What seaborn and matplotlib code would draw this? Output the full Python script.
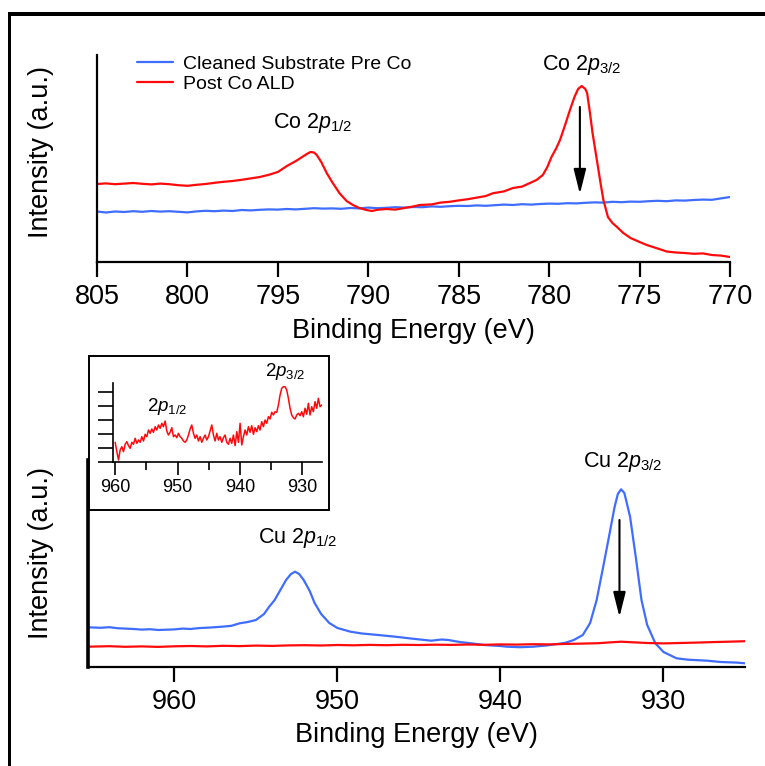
import numpy as np
import pandas as pd
import matplotlib
matplotlib.use("Agg")
import matplotlib.pyplot as plt
import seaborn as sns
from matplotlib.patches import Rectangle

# ---------------- data ----------------
# Co 2p region, cleaned substrate (before Co deposition)
co_pre_energy = [805, 804.5, 804, 803.5, 803, 802.5, 802, 801.5, 801, 800.5, 800, 799.5,
                 799, 798.5, 798, 797.5, 797, 796.5, 796, 795.5, 795, 794.5, 794, 793.5,
                 793, 792.5, 792, 791.5, 791, 790.5, 790, 789.5, 789, 788.5, 788, 787.5,
                 787, 786.5, 786, 785.5, 785, 784.5, 784, 783.5, 783, 782.5, 782, 781.5,
                 781, 780.5, 780, 779.5, 779, 778.5, 778, 777.5, 777, 776.5, 776, 775.5,
                 775, 774.5, 774, 773.5, 773, 772.5, 772, 771.5, 771, 770.5, 770]
co_pre_counts = [50.5, 49.5, 50.5, 50.0, 50.8, 50.2, 51.0, 50.4, 50.8, 50.2, 49.6, 50.6,
                 51.2, 50.8, 51.4, 51.0, 52.0, 51.6, 52.2, 52.6, 52.4, 53.0, 52.6, 53.2,
                 53.8, 53.4, 53.6, 53.2, 54.0, 53.6, 54.4, 53.8, 54.2, 54.8, 54.4, 55.0,
                 54.8, 55.6, 55.2, 55.8, 56.2, 56.0, 56.6, 56.2, 56.8, 57.4, 57.0, 57.8,
                 57.4, 58.0, 58.4, 58.2, 58.8, 58.6, 59.2, 59.6, 59.4, 60.2, 59.8, 60.4,
                 60.2, 60.8, 61.2, 60.8, 61.6, 61.4, 62.0, 62.4, 62.2, 63.6, 65.0]

# Co 2p region after Co ALD
co_post_energy = [805, 804.5, 804, 803.5, 803, 802.5, 802, 801.5, 801, 800.5, 800, 799.5,
                  799, 798.5, 798, 797.5, 797, 796.5, 796, 795.5, 795, 794.5, 794, 793.7,
                  793.4, 793.2, 793.0, 792.85, 792.6, 792.3, 792.0, 791.6, 791.2, 790.85,
                  790.5, 790.1, 789.8, 789.5, 789.0, 788.5, 788.0, 787.5, 787.15, 786.5,
                  786.0, 785.5, 785.0, 784.5, 784.0, 783.5, 783.1, 782.5, 782.0, 781.5,
                  781.06, 780.7, 780.35, 780.1, 779.87, 779.6, 779.4, 779.1, 778.85, 778.6,
                  778.4, 778.2, 778.0, 777.9, 777.75, 777.6, 777.45, 777.3, 777.15, 777.0,
                  776.75, 776.5, 776.25, 775.9, 775.5, 775.0, 774.6, 774.0, 773.5, 773.0,
                  772.5, 772.0, 771.5, 771.0, 770.5, 770.0]
co_post_counts = [78.0, 78.6, 77.8, 78.4, 79.0, 78.2, 77.6, 78.4, 77.8, 76.8, 76.2, 77.2,
                  78.0, 79.2, 80.2, 81.0, 82.2, 83.6, 85.0, 87.2, 90.0, 96.0, 101.0, 104.5,
                  108.0, 110.0, 109.5, 107.0, 100.0, 89.0, 80.0, 69.0, 61.0, 57.0,
                  54.0, 52.0, 51.0, 52.2, 53.0, 52.4, 54.0, 55.6, 57.0, 57.6,
                  59.4, 60.2, 61.6, 62.8, 64.4, 66.0, 68.8, 70.6, 74.0, 75.4,
                  79.0, 82.0, 87.0, 95.0, 105.0, 114.0, 122.0, 138.0, 152.0, 165.0,
                  173.0, 176.0, 173.0, 169.0, 150.0, 129.0, 112.0, 95.0, 78.0, 62.0,
                  45.0, 39.0, 35.0, 29.0, 24.0, 20.0, 17.0, 13.5, 10.5, 9.5,
                  9.0, 8.2, 8.6, 7.0, 6.4, 5.0]

# Cu 2p region, cleaned substrate
cu_pre_energy = [965.3, 964.5, 964, 963.5, 963, 962.5, 962, 961.5, 961, 960.5, 960, 959.5,
                 959, 958.5, 958, 957.5, 957, 956.5, 956, 955.5, 955, 954.5, 954.2, 953.85,
                 953.5, 953.15, 952.85, 952.6, 952.35, 952.07, 951.7, 951.4, 951.0, 950.5,
                 950.0, 949.2, 948.5, 947.5, 946.45, 945.5, 944.25, 943.6, 943.2, 942.5,
                 941.8, 941.0, 940.0, 939.6, 938.8, 938.0, 937.2, 936.5, 936.0, 935.5,
                 934.95, 934.5, 934.1, 933.7, 933.3, 933.0, 932.8, 932.6, 932.4, 932.05,
                 931.7, 931.35, 931.0, 930.5, 930.0, 929.2, 928.5, 927.3, 926.5, 925.5, 925.0]
cu_pre_counts = [39.7, 39.2, 39.8, 38.8, 38.4, 38.0, 37.4, 37.8, 37.0, 37.3, 37.6, 38.4,
                 38.0, 38.9, 39.3, 39.8, 40.4, 41.2, 43.7, 45.0, 47.0, 53.0, 60.0, 67.0,
                 77.0, 87.0, 93.0, 95.3, 93.0, 87.0, 76.0, 64.0, 53.0, 44.0,
                 39.0, 35.3, 33.5, 32.0, 30.3, 28.5, 26.3, 27.5, 27.0, 25.0,
                 23.7, 22.0, 21.0, 20.3, 19.8, 20.3, 21.5, 23.0, 24.3, 27.0,
                 32.0, 44.0, 67.0, 100.0, 134.0, 160.0, 173.0, 177.7, 174.0, 150.3,
                 110.0, 67.0, 42.0, 23.7, 15.0, 8.7, 7.3, 6.3, 5.0, 4.4, 3.7]

# Cu 2p region after Co ALD
cu_post_energy = [965.3, 964, 963, 962, 961, 960, 959, 958, 957, 956, 955, 954, 953, 952,
                  951, 950, 949, 948, 947, 946, 945, 944, 943, 942, 941, 940, 939, 938,
                  937, 936, 935, 934, 933.3, 932.6, 932, 931, 930, 929, 928, 927, 926, 925]
cu_post_counts = [20.3, 20.8, 20.2, 20.6, 20.1, 20.7, 21.0, 20.6, 21.2, 20.9, 21.4, 21.1,
                  21.6, 21.8, 21.5, 22.0, 21.7, 22.1, 21.8, 22.2, 22.0, 22.3, 22.1, 22.5,
                  22.2, 22.6, 22.4, 22.8, 22.6, 23.1, 23.4, 23.8, 24.6, 25.3, 24.8, 24.0,
                  23.6, 24.0, 24.4, 24.9, 25.3, 25.8]

# Magnified Cu 2p after Co ALD (uniform spectrometer step from 960 to 926.9 eV)
inset_counts = [19.7, 10.3, 2.0, 12.0, 15.3, 10.3, 17.7, 20.3, 16.3, 13.7,
                19.7, 17.7, 23.7, 18.7, 22.0, 19.7, 25.3, 21.0, 27.7, 25.3,
                32.0, 28.7, 33.0, 29.7, 35.3, 32.0, 37.0, 33.7, 38.7, 35.3,
                41.0, 31.0, 27.0, 29.7, 34.3, 25.3, 27.0, 24.3, 28.7, 25.3,
                23.7, 21.0, 19.7, 22.0, 27.0, 33.0, 37.0, 28.7, 23.7, 27.0,
                21.0, 25.3, 19.7, 23.7, 27.0, 22.0, 25.3, 31.0, 37.0, 27.0,
                21.0, 28.7, 22.0, 25.3, 19.7, 24.3, 27.0, 19.7, 17.7, 23.7,
                18.7, 27.0, 16.3, 30.3, 19.7, 38.7, 17.0, 25.3, 32.0, 27.0,
                35.3, 29.7, 36.3, 27.7, 34.3, 30.3, 36.3, 32.0, 40.3, 35.3,
                42.0, 38.7, 45.3, 43.0, 49.7, 47.0, 50.3, 49.7, 57.0, 67.0,
                73.7, 75.3, 75.3, 72.0, 63.7, 53.7, 47.0, 44.3, 43.0, 47.0,
                48.7, 46.3, 50.3, 45.3, 53.7, 47.7, 58.7, 47.0, 55.3, 50.3,
                60.3, 53.7, 63.7, 55.3, 57.0]
inset_energy = np.linspace(960.0, 926.9, len(inset_counts))

series_labels = ["Cleaned Substrate Pre Co", "Post Co ALD"]
co_ticks = [805, 800, 795, 790, 785, 780, 775, 770]
cu_ticks = [960, 950, 940, 930]
inset_major = [960, 950, 940, 930]
inset_minor = [955, 945, 935]
inset_yticks = [0, 14, 28, 42, 56, 70]

# ---------------- style ----------------
sns.set_theme(style="white")
plt.rcParams["font.family"] = ["Liberation Sans", "DejaVu Sans"]
plt.rcParams["mathtext.fontset"] = "custom"
plt.rcParams["mathtext.rm"] = "Liberation Sans"
plt.rcParams["mathtext.it"] = "Liberation Sans:italic"
for key in ["text.color", "axes.labelcolor", "xtick.color", "ytick.color", "axes.edgecolor"]:
    plt.rcParams[key] = "black"

BLUE = "#3f6dff"
RED = "#ff0a0a"
W, H = 765, 766


def px_box(left, top, right, bottom):
    return [left / W, 1 - bottom / H, (right - left) / W, (bottom - top) / H]


fig = plt.figure(figsize=(W / 100, H / 100), dpi=100)

# outer frame: top and left edges of a panel border, drawn as solid bars
fig.add_artist(Rectangle((8 / W, 1 - 15.5 / H), (W - 8) / W, 3.2 / H,
                         transform=fig.transFigure, fc="black", ec="none", lw=0, zorder=5))
fig.add_artist(Rectangle((8 / W, 0.0), 3.2 / W, 1 - 12.3 / H,
                         transform=fig.transFigure, fc="black", ec="none", lw=0, zorder=5))
# keep the right margin below the top bar clear
fig.add_artist(Rectangle((757 / W, 0.0), 8 / W, 1 - 15.6 / H,
                         transform=fig.transFigure, fc="white", ec="none", lw=0, zorder=10))

ax_co = fig.add_axes(px_box(97, 55, 730, 262))
ax_cu = fig.add_axes(px_box(88, 460, 745, 667))


def style_main(ax, ticks, xlim):
    sns.despine(ax=ax)
    ax.set_xlim(*xlim)
    ax.set_ylim(0, 207)
    ax.set_xticks(ticks)
    ax.set_yticks([])
    ax.tick_params(axis="x", bottom=True, direction="out", length=11, width=1.6,
                   pad=5, labelsize=19.5)
    for s in ("left", "bottom"):
        ax.spines[s].set_linewidth(1.6)
        ax.spines[s].set_color("black")
    ax.set_xlabel("Binding Energy (eV)", fontsize=19.5)
    ax.set_ylabel("Intensity (a.u.)", fontsize=19.5)
    ax.grid(False)


# ----- Co 2p panel -----
sns.lineplot(x=co_pre_energy, y=co_pre_counts, ax=ax_co, color=BLUE, lw=1.6,
             estimator=None, label=series_labels[0])
sns.lineplot(x=co_post_energy, y=co_post_counts, ax=ax_co, color=RED, lw=1.6,
             estimator=None, label=series_labels[1])
style_main(ax_co, co_ticks, (805, 770))
ax_co.xaxis.set_label_coords(0.5, -0.27)
ax_co.yaxis.set_label_coords(-0.068, 0.53)
ax_co.legend(loc="upper left", bbox_to_anchor=(0.063, 1.0), frameon=False, fontsize=14,
             handlelength=1.85, handletextpad=0.5, labelspacing=0.15, borderpad=0,
             borderaxespad=0)

ax_co.text(778.2, 197, r"Co 2$\mathit{p}_{3/2}$", ha="center", va="center", fontsize=15.5)
ax_co.text(793.06, 139, r"Co 2$\mathit{p}_{1/2}$", ha="center", va="center", fontsize=15.5)
arrow_style = dict(arrowstyle="-|>,head_length=0.6,head_width=0.15", color="black",
                   lw=1.5, mutation_scale=25, shrinkA=0, shrinkB=0)
ax_co.annotate("", xy=(778.3, 68), xytext=(778.3, 155), arrowprops=arrow_style)

# ----- Cu 2p panel -----
sns.lineplot(x=cu_pre_energy, y=cu_pre_counts, ax=ax_cu, color=BLUE, lw=1.6,
             estimator=None, legend=False)
sns.lineplot(x=cu_post_energy, y=cu_post_counts, ax=ax_cu, color=RED, lw=1.6,
             estimator=None, legend=False)
style_main(ax_cu, cu_ticks, (965.3, 925))
ax_cu.spines["left"].set_linewidth(2.6)
ax_cu.xaxis.set_label_coords(0.5, -0.266)
ax_cu.yaxis.set_label_coords(-0.052, 0.55)

ax_cu.text(932.5, 205, r"Cu 2$\mathit{p}_{3/2}$", ha="center", va="center", fontsize=15.5,
           clip_on=False)
ax_cu.text(952.45, 129, r"Cu 2$\mathit{p}_{1/2}$", ha="center", va="center", fontsize=15.5)
ax_cu.annotate("", xy=(932.7, 50), xytext=(932.7, 147), arrowprops=arrow_style)

# ----- magnified inset -----
fig.add_artist(Rectangle((88.5 / W, 1 - 509.5 / H), 240 / W, 153.5 / H,
                         transform=fig.transFigure, fc="white", ec="black", lw=1.4, zorder=2))
ax_in = fig.add_axes(px_box(113.3, 383, 321.7, 462))
ax_in.set_zorder(3)
ax_in.patch.set_alpha(0)
sns.lineplot(x=inset_energy, y=inset_counts, ax=ax_in, color=RED, lw=1.1,
             estimator=None, legend=False)
sns.despine(ax=ax_in)
ax_in.set_xlim(960.3, 926.9)
ax_in.set_ylim(0, 79)
ax_in.set_xticks(inset_major)
ax_in.set_xticks(inset_minor, minor=True)
ax_in.set_yticks(inset_yticks)
ax_in.set_yticklabels([])
ax_in.tick_params(axis="x", which="major", bottom=True, direction="out", length=9,
                  width=1.2, pad=3, labelsize=13)
ax_in.tick_params(axis="x", which="minor", bottom=True, direction="out", length=5.5,
                  width=1.2)
ax_in.tick_params(axis="y", left=True, direction="out", length=10.5, width=1.2)
for s in ("left", "bottom"):
    ax_in.spines[s].set_linewidth(1.2)
    ax_in.spines[s].set_color("black")
ax_in.set_xlabel("")
ax_in.set_ylabel("")
ax_in.grid(False)
ax_in.text(932.76, 90, r"2$\mathit{p}_{3/2}$", ha="center", va="center", fontsize=13.5,
           clip_on=False)
ax_in.text(951.67, 55.3, r"2$\mathit{p}_{1/2}$", ha="center", va="center", fontsize=13.5)

fig.savefig("out.png", dpi=100)
